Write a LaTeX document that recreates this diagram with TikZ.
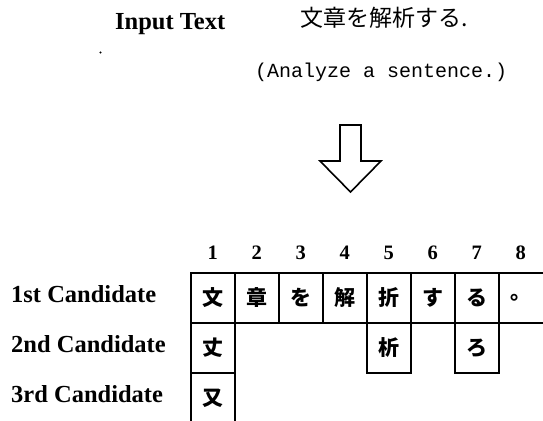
\documentclass[tikz,border=0pt]{standalone}
\usepackage{fontspec}
\newfontfamily\cjk{Noto Sans CJK JP}
\newfontfamily\monof{Liberation Mono}
\newfontfamily\lblfont{Liberation Serif}
\begin{document}
\begin{tikzpicture}[x=1pt,y=-1pt,
  lbl/.style={font=\fontsize{24.5}{28}\lblfont\bfseries, inner sep=0pt},
  num/.style={font=\fontsize{20.5}{24}\lblfont\bfseries, inner sep=0pt},
  cell/.style={draw, line width=1.6pt, minimum width=44pt, minimum height=50pt, inner sep=0pt, font=\fontsize{21}{24}\cjk\bfseries},
  opencell/.style={minimum width=44pt, minimum height=50pt, inner sep=0pt, font=\fontsize{21}{24}\cjk\bfseries},
  edge/.style={line width=1.6pt},
  blockarrow/.style={draw, line width=1.6pt, line join=miter}
]
\useasboundingbox (0,0) rectangle (543,420);
\clip (0,0) rectangle (543,420);

% header
\node[lbl, anchor=base west] (input) at (115,29.3) {Input Text};
\node[font=\fontsize{23}{26}\cjk, inner sep=0pt, anchor=west] (jp) at (300,18) {文章を解析する.};
\node[font=\fontsize{20}{24}\monof, inner sep=0pt, anchor=west] (en) at (255,72) {(Analyze a sentence.)};
\fill (100.5,52.5) circle (1.1);

% hollow arrow
\draw[blockarrow] (340,125) -- (361,125) -- (361,161) -- (381,161) -- (350.5,192) -- (320,161) -- (340,161) -- cycle;

% column numbers
\foreach \i in {1,...,8} {
  \node[num, anchor=base] (n\i) at ({212.7+44*(\i-1)},259) {\i};
}

% row labels
\node[lbl, anchor=base west] (l1) at (11,302.7) {1st Candidate};
\node[lbl, anchor=base west] (l2) at (11,352.5) {2nd Candidate};
\node[lbl, anchor=base west] (l3) at (11,402.3) {3rd Candidate};

% first candidate row
\node[cell] (c1) at (212.7,298) {文};
\node[cell] (c2) at (256.7,298) {章};
\node[cell] (c3) at (300.7,298) {を};
\node[cell] (c4) at (344.7,298) {解};
\node[cell] (c5) at (388.7,298) {折};
\node[cell] (c6) at (432.7,298) {す};
\node[cell] (c7) at (476.7,298) {る};
\node[opencell] (c8) at (520.7,298) {。};
\draw[edge] (c8.south west) -- (c8.north west);
\draw[edge] (c8.north west) -- (c8.north east);
\draw[edge] (c8.south west) -- (c8.south east);
\draw[line width=0.6pt, dashed, gray] (c8.north east) -- (c8.south east);

% second candidate row
\node[cell] (d1) at (212.7,348) {丈};
\node[cell] (d5) at (388.7,348) {析};
\node[cell] (d7) at (476.7,348) {ろ};

% third candidate row
\node[cell] (e1) at (212.7,398) {又};
\end{tikzpicture}
\end{document}
